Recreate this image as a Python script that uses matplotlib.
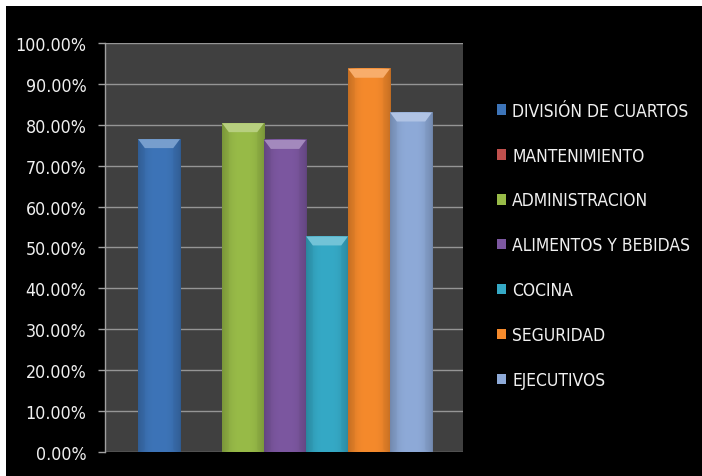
import matplotlib
matplotlib.use("Agg")
import matplotlib.pyplot as plt
import numpy as np
from matplotlib.patches import Rectangle, Polygon
from matplotlib.colors import to_rgb
from matplotlib.ticker import FuncFormatter
from matplotlib import font_manager

# porcentaje por departamento
departamentos = ["DIVISIÓN DE CUARTOS", "MANTENIMIENTO", "ADMINISTRACION",
                 "ALIMENTOS Y BEBIDAS", "COCINA", "SEGURIDAD", "EJECUTIVOS"]
porcentajes = [76.5, 0.0, 80.4, 76.3, 52.7, 93.7, 83.0]
colores = ["#3d74b8", "#c0504d", "#98bb48", "#7c57a0", "#35a9c6", "#f58a2c", "#8eaad8"]

nombres = {f.name for f in font_manager.fontManager.ttflist}
if "Liberation Sans Narrow" in nombres:
    plt.rcParams["font.family"] = ["Liberation Sans Narrow", "DejaVu Sans"]
else:
    plt.rcParams["font.family"] = ["DejaVu Sans"]
    plt.rcParams["font.stretch"] = "condensed"

fig = plt.figure(figsize=(7.02, 4.77), dpi=100, facecolor="white")
# fondo negro con borde blanco arriba e izquierda
fig.patches.append(Rectangle((6 / 702, 0), 1, 1 - 7 / 477, transform=fig.transFigure,
                             facecolor="black", edgecolor="none", zorder=-10))

ax = fig.add_axes([0.1496, 0.0503, 0.5100, 0.8575], zorder=2)
ax.set_facecolor("#404040")

x = np.arange(len(departamentos))
barras = ax.bar(x, porcentajes, width=1.0, color=colores, zorder=3, linewidth=0)

# sombreado de las barras: bordes oscuros y bisel superior
grad = np.abs(np.linspace(-1, 1, 64)) ** 3
for b, c, v in zip(barras, colores, porcentajes):
    if v <= 0:
        continue
    base = np.array(to_rgb(c))
    img = base[None, :] * (1 - 0.22 * grad[:, None])
    img = np.clip(img, 0, 1)[None, :, :]
    x0, w = b.get_x(), b.get_width()
    ax.imshow(img, extent=(x0, x0 + w, 0, v), aspect="auto", zorder=4,
              interpolation="bilinear")
    bev = 2.2
    ins = 0.16
    light = np.clip(base + (1 - base) * 0.3, 0, 1)
    ax.add_patch(Polygon([(x0, v), (x0 + w, v), (x0 + w - ins, v - bev), (x0 + ins, v - bev)],
                         closed=True, facecolor=light, edgecolor="none", zorder=5))
    side = np.clip(base * 0.85, 0, 1)
    ax.add_patch(Polygon([(x0, v), (x0 + ins, v - bev), (x0 + ins, 0.6), (x0, 0)],
                         closed=True, facecolor=side, edgecolor="none", zorder=5, alpha=0.35))
    ax.add_patch(Polygon([(x0 + w, v), (x0 + w - ins, v - bev), (x0 + w - ins, 0.6), (x0 + w, 0)],
                         closed=True, facecolor=side, edgecolor="none", zorder=5, alpha=0.35))

ax.set_xlim(-1.286, 7.238)
ax.set_ylim(0, 100)
ax.set_yticks(np.arange(0, 101, 10))
ax.yaxis.set_major_formatter(FuncFormatter(lambda v, p: f"{v:.2f}%"))
ax.grid(axis="y", color="#959595", linewidth=1.0, zorder=1)
ax.set_axisbelow(True)
ax.set_xticks([])
for s in ["top", "right", "bottom"]:
    ax.spines[s].set_visible(False)
ax.spines["left"].set_color("#a0a0a0")
ax.spines["left"].set_linewidth(1.0)
ax.tick_params(axis="y", colors="#a0a0a0", labelcolor="#f0f0f0", length=5,
               width=1.0, pad=8.5, labelsize=12.8)

handles = [Rectangle((0, 0), 1, 1, facecolor=c, edgecolor="none") for c in colores]
fig.legend(handles, departamentos, loc="upper left", bbox_to_anchor=(0.695, 0.803),
           frameon=False, labelcolor="#f0f0f0", fontsize=12.5, handlelength=0.55,
           handleheight=0.55, handletextpad=0.35, labelspacing=1.55, borderpad=0)

fig.savefig("out.png", dpi=100, facecolor="white")
